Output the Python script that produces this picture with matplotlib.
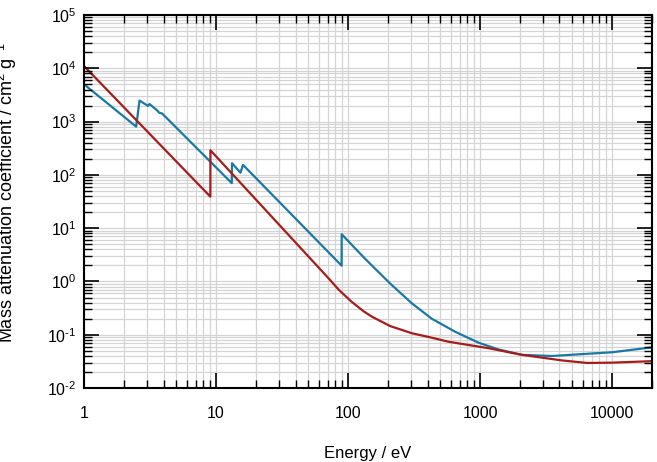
import numpy as np
import matplotlib
matplotlib.use("Agg")
import matplotlib.pyplot as plt
from matplotlib.ticker import LogLocator, NullFormatter

plt.rcParams['font.family'] = ['Liberation Sans', 'DejaVu Sans']
plt.rcParams['mathtext.default'] = 'regular'

# curva roja (energia en eV, coeficiente en cm2/g)
e_rojo = [1, 9.05, 9.06, 70, 85, 106, 130, 151, 208, 304, 424, 578, 1160, 2080,
          4190, 6500, 10000, 20000]
mu_rojo = [11000, 39, 290, 1.2, 0.7, 0.42, 0.28, 0.22, 0.146, 0.107, 0.089,
           0.074, 0.056, 0.042, 0.033, 0.0296, 0.030, 0.032]

# curva azul
e_azul = [1, 2.48, 2.63, 3.05, 3.13, 3.6, 3.7, 3.9, 13.15, 13.2, 15.3, 16.0,
          89.4, 89.5, 134, 208, 304, 431, 648, 975, 1384, 2080, 3500, 10000,
          20000]
mu_azul = [5000, 805, 2480, 1970, 2140, 1600, 1470, 1420, 70, 166, 110, 154,
           1.98, 7.7, 2.7, 0.92, 0.39, 0.20, 0.114, 0.071, 0.053, 0.042, 0.040,
           0.047, 0.058]

rect = [0.128, 0.160, 0.864, 0.8075]
fig = plt.figure(figsize=(6.57, 4.62), dpi=100)
ax = fig.add_axes(rect)

ax.plot(e_azul, mu_azul, color='#1b78a3', lw=1.6)
ax.plot(e_rojo, mu_rojo, color='#a51d1a', lw=1.6)


def ejes_log(a):
    a.set_xscale('log')
    a.set_yscale('log')
    a.set_xlim(1, 20000)
    a.set_ylim(1e-2, 1e5)
    a.xaxis.set_major_locator(LogLocator(base=10, numticks=10))
    a.xaxis.set_minor_locator(LogLocator(base=10, subs=np.arange(2, 10), numticks=20))
    a.yaxis.set_major_locator(LogLocator(base=10, numticks=10))
    a.yaxis.set_minor_locator(LogLocator(base=10, subs=np.arange(2, 10), numticks=20))
    a.xaxis.set_minor_formatter(NullFormatter())
    a.yaxis.set_minor_formatter(NullFormatter())


ejes_log(ax)
ax.grid(True, which='both', color='#d4d4d4', lw=0.9)
ax.set_axisbelow(True)
ax.tick_params(which='both', length=0, labelbottom=False, labelleft=False)
for s in ax.spines.values():
    s.set_visible(False)


def etiqueta_y(v, p):
    exp = int(round(np.log10(v)))
    if exp < 0:
        return "10$^{\u2010" + str(-exp) + "}$"
    return "10$^{" + str(exp) + "}$"


# eje encima solo para las marcas y el marco
ax2 = fig.add_axes(rect, sharex=ax, sharey=ax)
ax2.patch.set_visible(False)
ax2.xaxis.set_major_formatter(plt.FuncFormatter(lambda v, p: f"{v:g}"))
ax2.yaxis.set_major_formatter(plt.FuncFormatter(etiqueta_y))
ax2.tick_params(which='both', direction='in', top=True, right=True, labelsize=11.5)
ax2.tick_params(which='major', length=11, width=1.2)
ax2.tick_params(which='minor', length=6, width=1.0)
ax2.tick_params(axis='x', pad=13)
ax2.tick_params(axis='y', pad=5.5)
for s in ax2.spines.values():
    s.set_linewidth(1.5)

ax2.set_xlabel("Energy / eV", fontsize=12)
ax2.xaxis.set_label_coords(0.5, -0.155)
ax2.set_ylabel("Mass attenuation coefficient / cm$^{2}$ g$^{-1}$", fontsize=13)
ax2.yaxis.set_label_coords(-0.115, 0.523)

fig.savefig("out.png", dpi=100)
